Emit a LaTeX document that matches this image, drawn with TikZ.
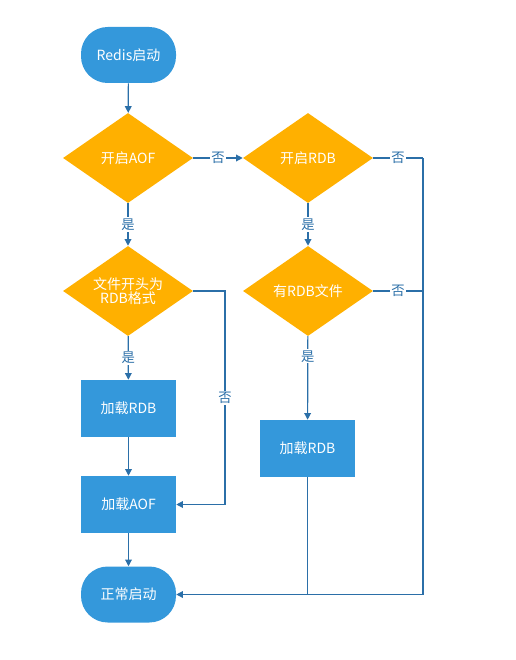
\documentclass[tikz,border=0pt]{standalone}
\usepackage{fontspec}
\setmainfont{Noto Sans CJK SC}
\usetikzlibrary{shapes.geometric,arrows.meta}
\definecolor{boxblue}{HTML}{3498DB}
\definecolor{dorange}{HTML}{FFB000}
\definecolor{lineblue}{HTML}{2B6FA8}
\tikzset{
  term/.style={draw=none,fill=boxblue,rounded corners=20pt,minimum width=95*0.75pt,minimum height=56*0.75pt,text=white,font=\fontsize{10.5pt}{12pt}\selectfont,inner sep=0pt},
  proc/.style={draw=none,fill=boxblue,minimum width=95*0.75pt,minimum height=57*0.75pt,text=white,font=\fontsize{10.5pt}{12pt}\selectfont,inner sep=0pt},
  dec/.style={draw=none,fill=dorange,diamond,aspect=1.444,minimum width=130*0.75pt,minimum height=90*0.75pt,inner sep=0pt,text=white,font=\fontsize{10.5pt}{12pt}\selectfont,align=center},
  conn/.style={draw=lineblue,line width=0.9pt},
  arr/.style={conn,-{Triangle[length=5pt,width=5pt]}},
  lab/.style={fill=white,text=lineblue,font=\fontsize{10pt}{11pt}\selectfont,inner sep=1pt}
}
\begin{document}
\begin{tikzpicture}[x=0.75pt,y=-0.75pt]
\useasboundingbox (0,0) rectangle (516,660);
\node[term] (start) at (128.5,55) {Redis启动};
\node[dec] (aof) at (128,158) {开启AOF};
\node[dec] (rdb) at (308,158) {开启RDB};
\node[dec] (fmt) at (128,291) {文件开头为\\[-1pt]RDB格式};
\node[dec] (has) at (308,291) {有RDB文件};
\node[proc] (lrdb) at (128.5,408.5) {加载RDB};
\node[proc] (laof) at (128.5,504.5) {加载AOF};
\node[term] (ok) at (128.5,594.5) {正常启动};
\node[proc] (rrdb) at (307.5,448.5) {加载RDB};
\coordinate (c1) at (225,291);
\coordinate (c2) at (225,504.5);
\coordinate (r1) at (423,158);
\coordinate (r2) at (423,291);
\coordinate (r3) at (423,594.5);
\coordinate (m3) at (307.5,594.5);

\draw[arr] (start) -- (aof);
\draw[arr] (aof) -- node[lab]{否} (rdb);
\draw[arr] (aof) -- node[lab,pos=0.5]{是} (fmt);
\draw[arr] (fmt) -- node[lab]{是} (lrdb);
\draw[arr] (lrdb) -- (laof);
\draw[arr] (laof) -- (ok);
\draw[arr] (fmt.east) -- (c1) -- node[lab]{否} (c2) -- (laof.east);
\draw[arr] (rdb) -- node[lab]{是} (has);
\draw[arr] (has) -- node[lab,pos=0.24]{是} (rrdb);
\draw[conn] (rdb.east) -- node[lab]{否} (r1);
\draw[conn] (has.east) -- node[lab]{否} (r2);
\draw[conn] (rrdb.south) -- (m3);
\draw[arr] (r1) -- (r3) -- (ok.east);
\end{tikzpicture}
\end{document}
